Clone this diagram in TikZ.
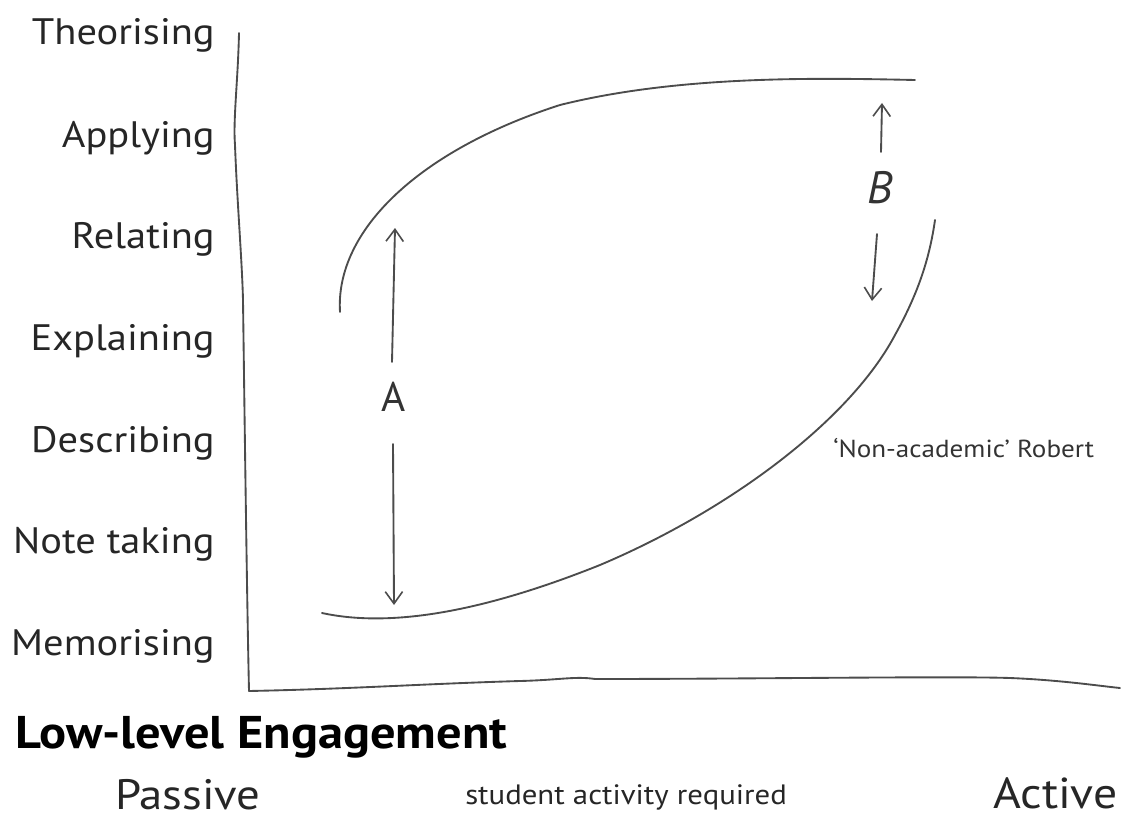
\documentclass[tikz,border=0pt]{standalone}
\usepackage{fontspec}
\setmainfont{PT Sans}[FakeStretch=1.1]
\newfontfamily\handfont{PT Sans}
\usetikzlibrary{arrows.meta}
\begin{document}
\begin{tikzpicture}[x=0.75pt,y=-0.75pt,
  pencil/.style={draw=black!70,line width=1.4pt,line cap=round,line join=round},
  arr/.style={pencil,-{Straight Barb[length=9pt,width=13pt,line width=1.2pt]}},
  level/.style={anchor=base east,font=\fontsize{27.6}{30}\selectfont,text=black!85,inner sep=0pt},
  hand/.style={anchor=base,text=black!80,inner sep=1pt}]
\useasboundingbox (0,0) rectangle (1122,817);
% levels of engagement
\node[level] (l1) at (215,45) {Theorising};
\node[level] (l2) at (215,147) {Applying};
\node[level] (l3) at (215,248) {Relating};
\node[level] (l4) at (215,350) {Explaining};
\node[level] (l5) at (215,452) {Describing};
\node[level] (l6) at (215,553) {Note taking};
\node[level] (l7) at (215,655) {Memorising};
% axes, hand drawn
\coordinate (ytop) at (239,33);
\coordinate (origin) at (249,691);
\coordinate (xend) at (1120,688);
\draw[pencil] (ytop) .. controls (238,80) and (233,120) .. (235,145)
  .. controls (237,200) and (242,260) .. (243,300)
  .. controls (245,450) and (247,600) .. (origin);
\draw[pencil] (origin) .. controls (350,689) and (420,684) .. (520,681)
  .. controls (560,680) and (575,676) .. (595,679)
  .. controls (750,679) and (950,676) .. (1010,678)
  .. controls (1060,680) and (1100,686) .. (xend);
% the loop
\draw[pencil] (340,312) .. controls (335,230) and (420,150) .. (560,105)
  .. controls (680,75) and (820,78) .. (915,80);
\draw[pencil] (322,613) .. controls (400,630) and (500,605) .. (600,565)
  .. controls (730,510) and (850,420) .. (895,335)
  .. controls (920,290) and (930,255) .. (935,220);
% arrow A
\node[hand,font=\handfont\fontsize{31}{34}\selectfont] (A) at (394,411) {A};
\coordinate (Atop) at (395,228);
\coordinate (Abot) at (394,605);
\draw[arr] (392,362) -- (Atop);
\draw[arr] (393,444) -- (Abot);
% arrow B
\node[hand,font=\handfont\fontsize{34}{36}\itshape] (B) at (880,203) {B};
\coordinate (Btop) at (882,103);
\coordinate (Bbot) at (872,301);
\draw[arr] (881,152) -- (Btop);
\draw[arr] (877,234) -- (Bbot);
% annotations
\node[anchor=base west,inner sep=0pt,font=\fontsize{18.5}{20}\selectfont,text=black!80] (rob) at (833,457) {`Non-academic' Robert};
\node[anchor=base west,font=\fontsize{34.4}{38}\bfseries,inner sep=0pt] (eng) at (15,748) {Low-level Engagement};
\node[anchor=base west,inner sep=0pt,font=\fontsize{31.9}{34}\selectfont,text=black!85] (pas) at (115,809) {Passive};
\node[anchor=base west,inner sep=0pt,font=\fontsize{21}{24}\selectfont,text=black!85] (act) at (465,804) {student activity required};
\node[anchor=base west,inner sep=0pt,font=\fontsize{32.5}{34}\selectfont,text=black!85] (actv) at (993,808) {Active};
\end{tikzpicture}
\end{document}
